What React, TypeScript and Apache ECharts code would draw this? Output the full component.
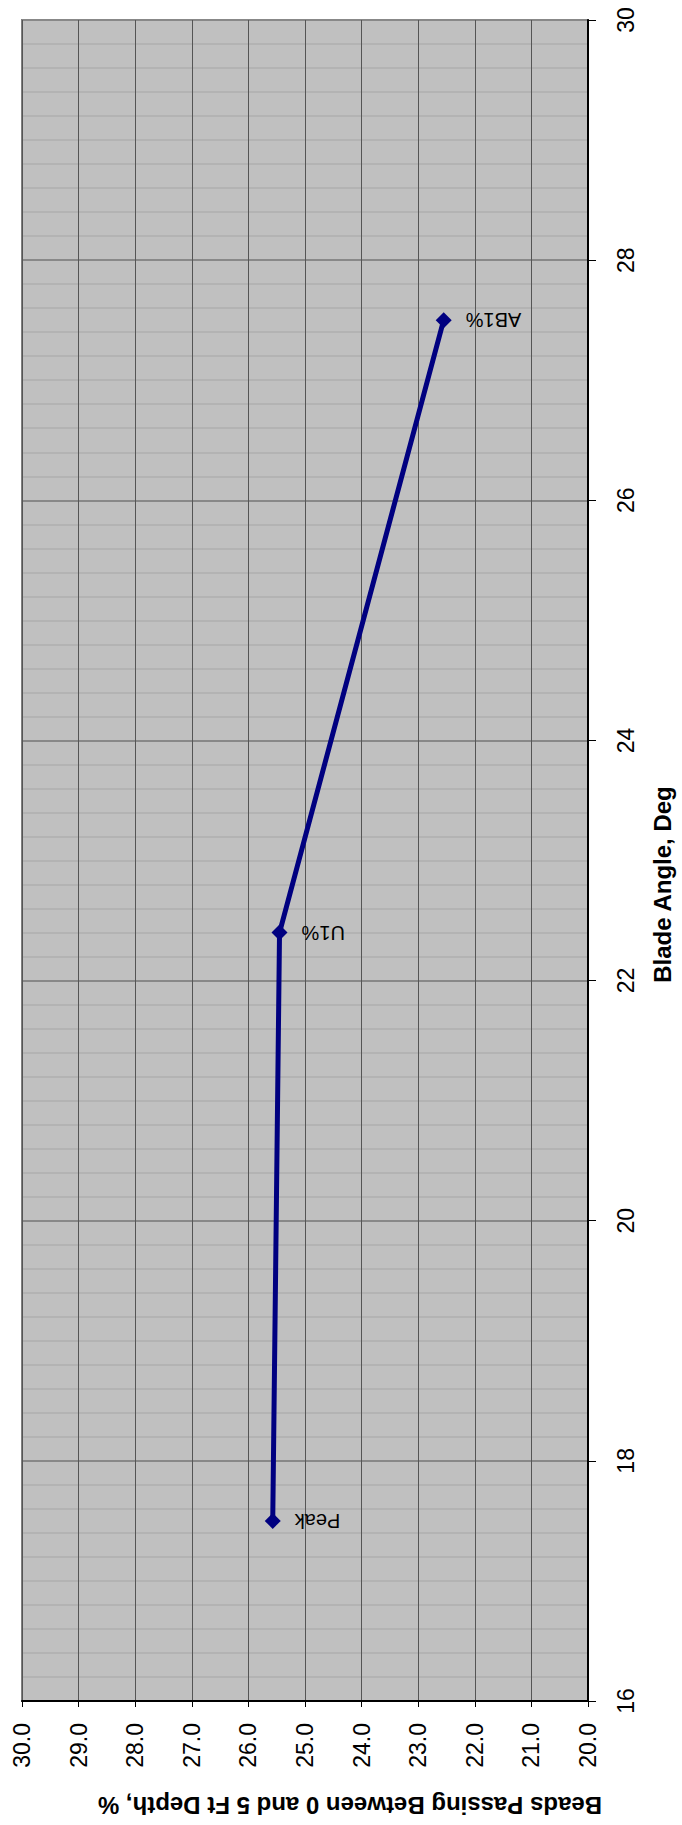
import React, { useEffect, useRef } from "react";
import * as echarts from "echarts";

// Data
const pointNames = ["Peak", "U1%", "AB1%"];
const beadsPassing = [25.57, 25.45, 22.55]; // %
const bladeAngle = [17.5, 22.4, 27.5]; // deg

const beadsMin = 20;
const beadsMax = 30;
const beadsStep = 1;
const angleMin = 16;
const angleMax = 30;
const angleStep = 2;

const beadsTitle = "Beads Passing Between 0 and 5 Ft Depth, %";
const angleTitle = "Blade Angle, Deg";

const FONT = "'Liberation Sans', Arial, sans-serif";

export default function App() {
  const ref = useRef<HTMLDivElement>(null);

  useEffect(() => {
    document.body.style.margin = "0";
    if (!ref.current) return;
    const chart = echarts.init(ref.current, undefined, { renderer: "svg" });

    const data = beadsPassing.map((b, i) => ({
      name: pointNames[i],
      value: [b, bladeAngle[i]],
    }));

    chart.setOption({
      animation: false,
      backgroundColor: "#ffffff",
      grid: {
        left: 22,
        right: 93,
        top: 20,
        bottom: 124,
        show: true,
        backgroundColor: "#c0c0c0",
        borderColor: "#808080",
        borderWidth: 2,
      },
      xAxis: {
        type: "value",
        position: "bottom",
        inverse: true,
        min: beadsMin,
        max: beadsMax,
        interval: beadsStep,
        name: beadsTitle,
        nameLocation: "middle",
        nameRotate: 180,
        nameGap: 92,
        nameTextStyle: {
          fontFamily: FONT,
          fontSize: 24,
          fontWeight: "bold",
          color: "#000",
          padding: [0, 90, 0, 0],
        },
        axisLine: { show: true, onZero: false, lineStyle: { color: "#000", width: 2 } },
        axisTick: { show: true, inside: false, length: 6, lineStyle: { color: "#000", width: 1 } },
        axisLabel: {
          rotate: 90,
          margin: 22,
          fontFamily: FONT,
          fontSize: 23,
          color: "#000",
          formatter: (v: number) => v.toFixed(1),
        },
        splitLine: { show: true, lineStyle: { color: "#555555", width: 1 } },
      },
      yAxis: {
        type: "value",
        position: "right",
        min: angleMin,
        max: angleMax,
        interval: angleStep,
        name: angleTitle,
        nameLocation: "middle",
        nameRotate: 90,
        nameGap: 62,
        nameTextStyle: {
          fontFamily: FONT,
          fontSize: 24,
          fontWeight: "bold",
          color: "#000",
          padding: [0, 48, 0, 0],
        },
        axisLine: { show: true, onZero: false, lineStyle: { color: "#000", width: 2 } },
        axisTick: { show: true, inside: false, length: 8, lineStyle: { color: "#000", width: 1 } },
        axisLabel: {
          rotate: 90,
          margin: 26,
          fontFamily: FONT,
          fontSize: 23,
          color: "#000",
          formatter: (v: number) => String(v),
        },
        splitLine: { show: true, lineStyle: { color: "#888888", width: 2 } },
        minorTick: { show: false, splitNumber: 10 },
        minorSplitLine: { show: true, lineStyle: { color: "#b3b3b3", width: 2 } },
      },
      series: [
        {
          type: "line",
          data,
          symbol: "diamond",
          symbolSize: 16,
          lineStyle: { color: "#000080", width: 5 },
          itemStyle: { color: "#000080" },
          z: 5,
          label: {
            show: true,
            position: "right",
            distance: 14,
            rotate: 180,
            align: "right",
            verticalAlign: "middle",
            fontFamily: FONT,
            fontSize: 20,
            color: "#000",
            formatter: (p: any) => p.name,
          },
        },
      ],
    });

    return () => chart.dispose();
  }, []);

  return <div ref={ref} style={{ width: 682, height: 1825 }} />;
}
